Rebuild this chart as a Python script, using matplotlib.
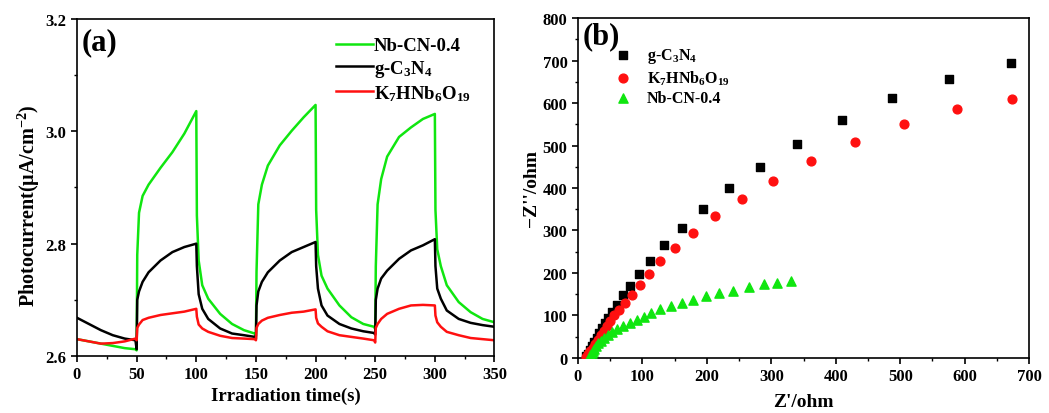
import matplotlib
matplotlib.use("Agg")
import matplotlib.pyplot as plt
from matplotlib.ticker import MultipleLocator

plt.rcParams["font.family"] = "Liberation Serif"
plt.rcParams["font.weight"] = "bold"
plt.rcParams["mathtext.fontset"] = "custom"
plt.rcParams["mathtext.rm"] = "Liberation Serif:bold"
plt.rcParams["mathtext.it"] = "Liberation Serif:bold"
plt.rcParams["mathtext.bf"] = "Liberation Serif:bold"
plt.rcParams["mathtext.default"] = "rm"

# (a) transient photocurrent, light on/off every 50 s
time_s = [0, 10, 20, 30, 40, 49, 50,
          50.5, 52, 55, 60, 70, 80, 90, 100,
          100.5, 102, 105, 110, 120, 130, 140, 149, 150,
          150.5, 152, 155, 160, 170, 180, 190, 200,
          200.5, 202, 205, 210, 220, 230, 240, 249, 250,
          250.5, 252, 255, 260, 270, 280, 290, 300,
          300.5, 302, 305, 310, 320, 330, 340, 350]
i_nbcn = [2.630, 2.626, 2.622, 2.618, 2.614, 2.612, 2.610,
          2.780, 2.855, 2.885, 2.905, 2.935, 2.963, 2.996, 3.036,
          2.850, 2.770, 2.726, 2.702, 2.675, 2.657, 2.646, 2.640, 2.636,
          2.750, 2.870, 2.905, 2.939, 2.975, 3.001, 3.025, 3.047,
          2.860, 2.780, 2.743, 2.720, 2.690, 2.669, 2.657, 2.652, 2.648,
          2.760, 2.870, 2.915, 2.955, 2.990, 3.007, 3.022, 3.031,
          2.860, 2.790, 2.760, 2.726, 2.696, 2.678, 2.666, 2.660]
i_gcn = [2.668, 2.657, 2.646, 2.637, 2.631, 2.628, 2.612,
         2.700, 2.715, 2.732, 2.749, 2.770, 2.785, 2.794, 2.800,
         2.760, 2.710, 2.684, 2.666, 2.649, 2.640, 2.637, 2.634, 2.630,
         2.690, 2.715, 2.732, 2.749, 2.770, 2.785, 2.794, 2.803,
         2.760, 2.720, 2.690, 2.672, 2.657, 2.649, 2.644, 2.641, 2.638,
         2.700, 2.720, 2.738, 2.752, 2.773, 2.788, 2.797, 2.808,
         2.760, 2.720, 2.702, 2.681, 2.666, 2.659, 2.655, 2.652]
i_knbo = [2.630, 2.626, 2.622, 2.623, 2.626, 2.631, 2.628,
          2.650, 2.656, 2.664, 2.668, 2.673, 2.676, 2.679, 2.684,
          2.670, 2.656, 2.649, 2.643, 2.636, 2.632, 2.631, 2.630, 2.628,
          2.650, 2.657, 2.663, 2.668, 2.673, 2.677, 2.679, 2.683,
          2.668, 2.658, 2.652, 2.644, 2.637, 2.634, 2.631, 2.628, 2.624,
          2.650, 2.657, 2.666, 2.675, 2.684, 2.690, 2.691, 2.690,
          2.672, 2.660, 2.652, 2.643, 2.637, 2.632, 2.630, 2.628]

# (b) Nyquist plots
z_re_gcn = [672, 575, 488, 409, 340, 282, 234, 194, 161, 134, 112, 95, 81,
            70, 61, 53, 47, 42, 37, 33, 29, 25, 21, 18, 15, 12]
z_im_gcn = [695, 657, 612, 560, 503, 449, 399, 350, 305, 265, 229, 198, 170,
            147, 125, 108, 94, 82, 70, 58, 47, 37, 27, 18, 10, 4]
z_re_knbo = [674, 588, 506, 430, 361, 303, 254, 213, 179, 151, 128, 110, 96,
             84, 73, 64, 56, 50, 45, 40, 35, 31, 27, 23, 19, 16, 13]
z_im_knbo = [610, 585, 551, 509, 463, 416, 374, 333, 294, 258, 227, 198, 171,
             149, 130, 114, 100, 88, 76, 64, 53, 43, 33, 24, 16, 9, 3]
z_re_nbcn = [330, 309, 288, 265, 241, 219, 199, 179, 161, 144, 128, 114, 103,
             91, 80, 70, 61, 53, 47, 40, 35, 31, 28, 25, 23, 21, 19, 18]
z_im_nbcn = [180, 176, 173, 166, 158, 152, 145, 137, 129, 122, 115, 106, 97,
             89, 83, 75, 68, 61, 53, 47, 40, 34, 28, 22, 16, 11, 6, 2]

GREEN = "#10e610"
RED = "#ff1010"

fig = plt.figure(figsize=(10.49, 4.14), dpi=100)
ax1 = fig.add_axes([0.0734, 0.1377, 0.398, 0.814])
ax2 = fig.add_axes([0.551, 0.133, 0.430, 0.821])

ax1.plot(time_s, i_nbcn, color=GREEN, lw=1.8, label="Nb-CN-0.4")
ax1.plot(time_s, i_gcn, color="black", lw=1.8, label="g-C$_3$N$_4$")
ax1.plot(time_s, i_knbo, color=RED, lw=1.8, label="K$_7$HNb$_6$O$_{19}$")
ax1.set_xlim(0, 350)
ax1.set_ylim(2.6, 3.2)
ax1.xaxis.set_major_locator(MultipleLocator(50))
ax1.xaxis.set_minor_locator(MultipleLocator(25))
ax1.yaxis.set_major_locator(MultipleLocator(0.2))
ax1.yaxis.set_minor_locator(MultipleLocator(0.1))
ax1.set_xlabel("Irradiation time(s)", fontsize=13.5, fontweight="bold", labelpad=3)
ax1.set_ylabel("Photocurrent(μA/cm$^{-2}$)", fontsize=14.5, fontweight="bold")
ax1.yaxis.set_label_coords(-0.085, 0.45)
ax1.text(0.012, 0.975, "(a)", transform=ax1.transAxes, fontsize=22,
         fontweight="bold", va="top", ha="left")
ax1.legend(loc="upper right", bbox_to_anchor=(0.975, 0.985), frameon=False,
           fontsize=13.5, handlelength=2.0, handletextpad=0.05,
           labelspacing=0.2, borderaxespad=0.3)

ax2.scatter(z_re_gcn, z_im_gcn, marker="s", s=36, color="black", label="g-C$_3$N$_4$", zorder=3)
ax2.scatter(z_re_knbo, z_im_knbo, marker="o", s=40, color=RED, label="K$_7$HNb$_6$O$_{19}$", zorder=3)
ax2.scatter(z_re_nbcn, z_im_nbcn, marker="^", s=44, color=GREEN, label="Nb-CN-0.4", zorder=3)
ax2.set_xlim(0, 700)
ax2.set_ylim(0, 800)
ax2.xaxis.set_major_locator(MultipleLocator(100))
ax2.xaxis.set_minor_locator(MultipleLocator(50))
ax2.yaxis.set_major_locator(MultipleLocator(100))
ax2.yaxis.set_minor_locator(MultipleLocator(50))
ax2.set_xlabel("Z'/ohm", fontsize=14, fontweight="bold", labelpad=6)
ax2.set_ylabel("\u2212Z''/ohm", fontsize=14, fontweight="bold", labelpad=2)
ax2.text(0.01, 0.99, "(b)", transform=ax2.transAxes, fontsize=22,
         fontweight="bold", va="top", ha="left")
ax2.legend(loc="upper left", bbox_to_anchor=(0.04, 0.95), frameon=False,
           fontsize=11.5, handletextpad=0.5, labelspacing=0.2, borderaxespad=0.3)

for ax in (ax1, ax2):
    ax.tick_params(which="major", direction="out", length=4, width=1.2, labelsize=12)
    ax.tick_params(which="minor", direction="out", length=2.5, width=1.0)
    for lab in ax.get_xticklabels() + ax.get_yticklabels():
        lab.set_fontweight("bold")
    for sp in ax.spines.values():
        sp.set_linewidth(1.2)

fig.savefig("out.png", dpi=100)
